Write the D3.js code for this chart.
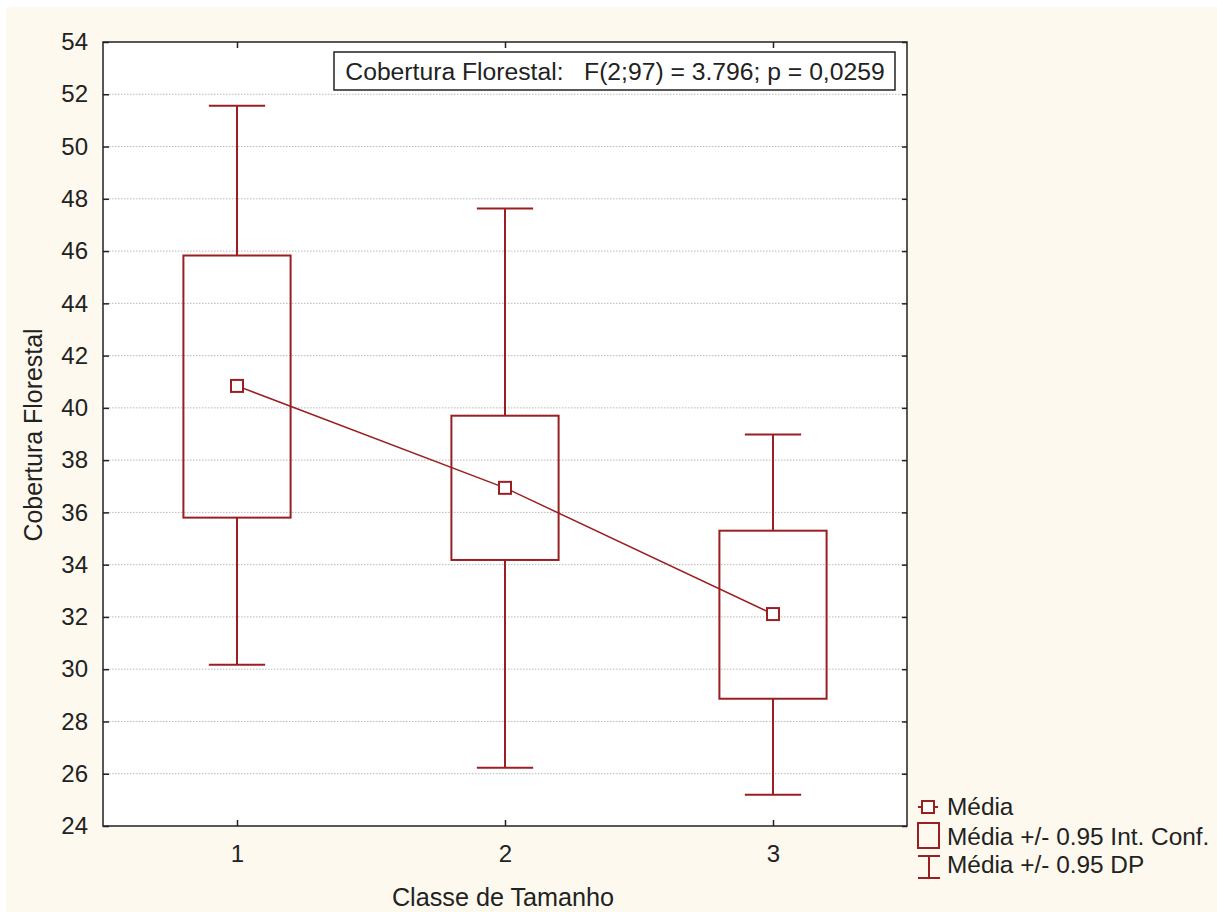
<!DOCTYPE html>
<html><head><meta charset="utf-8">
<script src="https://cdn.jsdelivr.net/npm/d3@7"></script>
<style>body{margin:0;background:#fff;}svg{display:block;font-family:Arial,"Liberation Sans",sans-serif;}</style>
</head><body>
<script>
const categories = ["1","2","3"];
const means      = [40.84, 36.94, 32.11];
const ciLow      = [35.80, 34.18, 28.87];
const ciHigh     = [45.83, 39.70, 35.30];
const sdLow      = [30.17, 26.23, 25.20];
const sdHigh     = [51.56, 47.63, 38.98];
const yTicks     = [24,26,28,30,32,34,36,38,40,42,44,46,48,50,52,54];
const legendLabels = ["Média","Média +/- 0.95 Int. Conf.","Média +/- 0.95 DP"];
const statText = "Cobertura Florestal:   F(2;97) = 3.796; p = 0,0259";

const W=1217,H=912, red="#9a1f22", FS=24;
const m={l:103,t:42,r:907,b:826};
const svg=d3.select("body").append("svg").attr("width",W).attr("height",H);
svg.append("rect").attr("x",6).attr("y",7).attr("width",W-6).attr("height",H-7).attr("fill","#fdf9ef");
const x=d3.scaleLinear().domain([0.5,3.5]).range([m.l,m.r]);
const y=d3.scaleLinear().domain([24,54]).range([m.b,m.t]);
svg.append("rect").attr("x",m.l).attr("y",m.t).attr("width",m.r-m.l).attr("height",m.b-m.t).attr("fill","#fff");
// grid
svg.append("g").selectAll("line").data(yTicks.filter(d=>d>24&&d<54)).join("line")
 .attr("x1",m.l).attr("x2",m.r).attr("y1",d=>y(d)).attr("y2",d=>y(d))
 .attr("stroke","#b8b8b8").attr("stroke-width",1).attr("stroke-dasharray","1.5,1.5");
// axes
const yl=svg.append("g").attr("transform",`translate(${m.l},0)`).call(d3.axisLeft(y).tickValues(yTicks).tickSize(-6).tickPadding(15));
const yr=svg.append("g").attr("transform",`translate(${m.r},0)`).call(d3.axisRight(y).tickValues(yTicks).tickSize(-5).tickFormat(""));
const xb=svg.append("g").attr("transform",`translate(0,${m.b})`).call(d3.axisBottom(x).tickValues([1,2,3]).tickFormat((d,i)=>categories[i]).tickSize(-6).tickPadding(19));
const xt=svg.append("g").attr("transform",`translate(0,${m.t})`).call(d3.axisTop(x).tickValues([1,2,3]).tickSize(-6).tickFormat(""));
[yl,yr,xb,xt].forEach(g=>{g.attr("font-size",FS).attr("font-family","Arial, Liberation Sans, sans-serif");
 g.select(".domain").remove();g.selectAll("line").attr("stroke","#222").attr("stroke-width",1.5);
 g.selectAll("text").attr("fill","#222");});
svg.append("rect").attr("x",m.l).attr("y",m.t).attr("width",m.r-m.l).attr("height",m.b-m.t).attr("fill","none").attr("stroke","#222").attr("stroke-width",1.5);

const data=categories.map((c,i)=>({c:i+1,mean:means[i],cl:ciLow[i],ch:ciHigh[i],sl:sdLow[i],sh:sdHigh[i]}));
const bw=x(1.2)-x(1), cw=x(1.105)-x(1);
const g=svg.append("g").attr("stroke",red).attr("stroke-width",2).attr("fill","none");
data.forEach(d=>{
  const cx=x(d.c);
  g.append("line").attr("x1",cx).attr("x2",cx).attr("y1",y(d.sh)).attr("y2",y(d.ch));
  g.append("line").attr("x1",cx).attr("x2",cx).attr("y1",y(d.cl)).attr("y2",y(d.sl));
  g.append("line").attr("x1",cx-cw).attr("x2",cx+cw).attr("y1",y(d.sh)).attr("y2",y(d.sh));
  g.append("line").attr("x1",cx-cw).attr("x2",cx+cw).attr("y1",y(d.sl)).attr("y2",y(d.sl));
  g.append("rect").attr("x",cx-bw).attr("y",y(d.ch)).attr("width",2*bw).attr("height",y(d.cl)-y(d.ch));
});
g.append("path").attr("d",d3.line().x(d=>x(d.c)).y(d=>y(d.mean))(data)).attr("stroke-width",1.5);
g.selectAll("rect.m").data(data).join("rect").attr("class","m").attr("x",d=>x(d.c)-6).attr("y",d=>y(d.mean)-6)
 .attr("width",12).attr("height",12).attr("fill","#fff");

// stat box
svg.append("rect").attr("x",334).attr("y",52).attr("width",561).attr("height",38).attr("fill","#fff").attr("stroke","#222").attr("stroke-width",1.5);
svg.append("text").attr("x",615).attr("y",80).attr("text-anchor","middle").attr("font-size",24.7).attr("fill","#222").style("white-space","pre").text(statText);

// titles
svg.append("text").attr("x",503).attr("y",906).attr("text-anchor","middle").attr("font-size",25.2).attr("fill","#222").text("Classe de Tamanho");
svg.append("text").attr("transform","translate(42,435) rotate(-90)").attr("text-anchor","middle").attr("font-size",24.9).attr("fill","#222").text("Cobertura Florestal");

// legend
const lg=svg.append("g").attr("stroke",red).attr("stroke-width",2);
const ly=[807,835,867];
lg.append("line").attr("x1",918).attr("x2",938).attr("y1",ly[0]).attr("y2",ly[0]);
lg.append("rect").attr("x",922).attr("y",ly[0]-6).attr("width",12).attr("height",12).attr("fill","#fff");
lg.append("rect").attr("x",918).attr("y",ly[1]-12).attr("width",21).attr("height",25).attr("fill","none");
lg.append("line").attr("x1",918).attr("x2",940).attr("y1",ly[2]-11).attr("y2",ly[2]-11);
lg.append("line").attr("x1",918).attr("x2",940).attr("y1",ly[2]+11).attr("y2",ly[2]+11);
lg.append("line").attr("x1",929).attr("x2",929).attr("y1",ly[2]-11).attr("y2",ly[2]+11);
svg.append("g").selectAll("text").data(legendLabels).join("text").attr("x",947).attr("y",(d,i)=>[815,845,873][i])
 .attr("font-size",24.4).attr("fill","#222").text(d=>d);
</script>
</body></html>
